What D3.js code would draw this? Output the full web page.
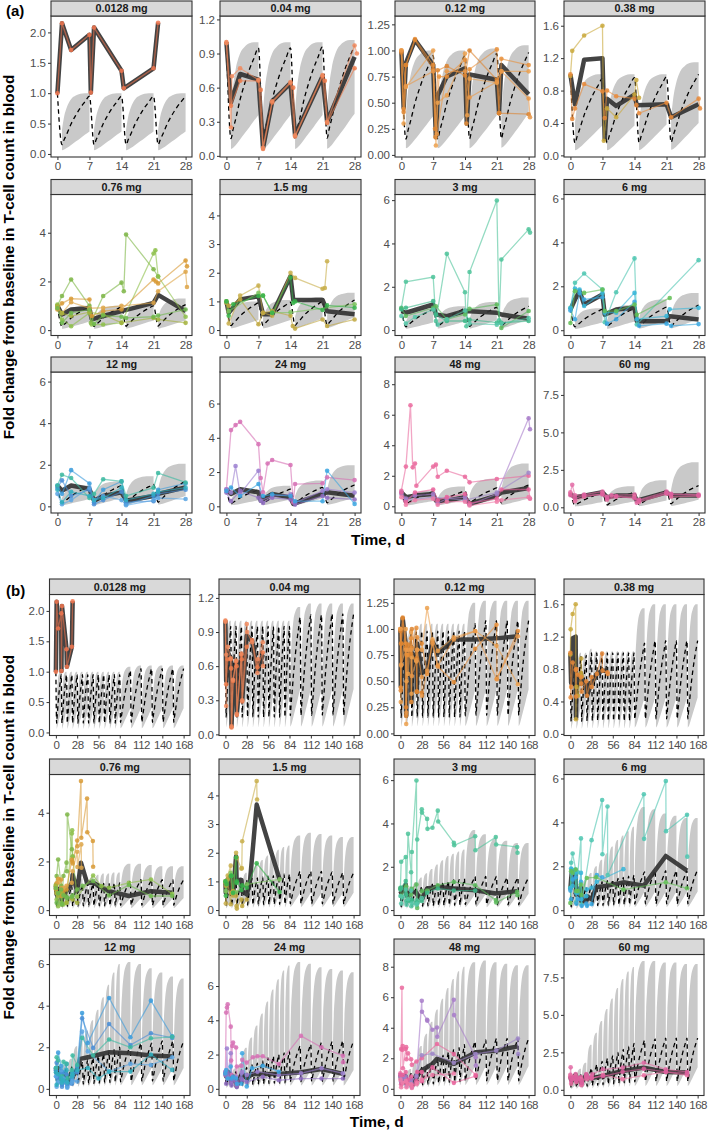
<!DOCTYPE html>
<html><head><meta charset="utf-8">
<script src="https://cdn.jsdelivr.net/npm/d3@7"></script>
<style>body{margin:0;background:#fff;} text{font-family:"Liberation Sans",Arial,sans-serif;}</style>
</head><body>
<script>
// ---------------- DATA ----------------
const doseLabels = ["0.0128 mg","0.04 mg","0.12 mg","0.38 mg","0.76 mg","1.5 mg","3 mg","6 mg","12 mg","24 mg","48 mg","60 mg"];
const yDomains = [[-0.05,2.27],[-0.01,1.23],[-0.02,1.33],[-0.02,1.72],[-0.22,5.57],[-0.19,4.73],[-0.25,6.26],[-0.24,6.18],[-0.32,6.46],[-0.39,7.84],[-0.44,8.8],[-0.38,9.03]];
const yTicks = [[0,0.5,1,1.5,2],[0,0.3,0.6,0.9,1.2],[0,0.25,0.5,0.75,1,1.25],[0,0.4,0.8,1.2,1.6],[0,2,4],[0,1,2,3,4],[0,2,4,6],[0,2,4,6],[0,2,4,6],[0,2,4,6],[0,2,4,6,8],[0,2.5,5,7.5]];
const yTickFormats = [".1f",".1f",".2f",".1f","d","d","d","d","d","d","d",".1f"];
const xTicksA = [0,7,14,21,28];
const xTicksB = [0,28,56,84,112,140,168];
const dosesA = [0,7,14,21];
const dosesB = [0,7,14,21,28,35,42,49,56,63,70,77,84,98,112,126,140,154];

// within-cycle shape of the prediction interval (fraction of cycle, fraction of end value)
const cycleFrac = [0,0.08,0.17,0.33,0.5,0.67,0.83,1];
const upperShape = [0.4,0.62,0.76,0.9,0.96,0.99,1,1];
const lowerShape = [0.17,0.2,0.26,0.4,0.55,0.7,0.85,1];
const medianShape = [0.16,0.25,0.34,0.52,0.67,0.8,0.9,1];

// (a) per panel, per weekly cycle end values
const ribbonA_upper = [[1,1,1,1],[1,1,1,1.02],[1,1,1.02,1.05],[1,1,1,1.15],[1,1,1.1,1.3],[1,1.05,1.15,1.3],[1,1.1,1.3,1.5],[1,1.15,1.4,1.7],[1,1.2,1.45,2.05],[1,1.2,1.5,2.4],[1,1.3,1.8,2.8],[1,1.4,1.8,3.0]];
const ribbonA_median = [[.95,.95,.95,.95],[.95,.95,.96,.97],[.95,.95,.97,.98],[.95,.96,.97,1],[.95,.95,1,1.05],[.95,.97,1,1.05],[.95,1,1.05,1.1],[.95,1,1.05,1.15],[.95,1,1.05,1.2],[.95,1,1.1,1.25],[.95,1,1.2,1.4],[.95,1,1.1,1.45]];
const ribbonA_lower = [[.37,.37,.37,.37],[.36,.36,.36,.37],[.37,.37,.38,.4],[.37,.37,.38,.4],[.35,.35,.4,.4],[.35,.35,.4,.45],[.35,.4,.45,.5],[.35,.4,.45,.5],[.35,.4,.45,.5],[.35,.4,.45,.5],[.35,.4,.45,.5],[.35,.4,.45,.5]];

// (b) per panel, per cycle end values (18 cycles)
const ribbonB_upper = [
 [1,1,1,1,1,1,1,1,1,1,1,1,1.08,1.1,1.1,1.1,1.1,1.1],
 [1,1,1,1,1,1,1,1,1,1,1,1,1.12,1.15,1.15,1.15,1.15,1.15],
 [1,1,1.02,1.05,1.05,1.05,1.05,1.05,1.05,1.05,1.05,1.05,1.25,1.27,1.27,1.27,1.27,1.27],
 [1,1,1,1.05,1.02,1.02,1.02,1.02,1.02,1.02,1.02,1.02,1.55,1.6,1.6,1.6,1.6,1.6],
 [1,1,1.1,1.3,1.3,1.35,1.4,1.45,1.5,1.5,1.55,1.55,1.9,1.9,1.85,1.8,1.8,1.8],
 [1,1.05,1.15,1.3,1.45,1.6,1.75,1.9,2,2.1,2.2,2.25,2.6,2.7,2.65,2.6,2.55,2.55],
 [1,1.1,1.3,1.5,1.7,1.9,2.1,2.3,2.5,2.6,2.7,2.8,3.7,3.5,3.3,3.2,3.1,3.1],
 [1,1.15,1.4,1.7,2,2.3,2.6,2.9,3.2,3.4,3.6,3.8,4.7,4.6,4.4,4.3,4.2,4.2],
 [1,1.2,1.45,2.05,2.4,2.8,3.3,3.8,4.4,5,5.6,6,6.1,6,5.8,5.6,5.4,5.3],
 [1,1.2,1.5,2.4,3,3.7,4.4,5.1,5.8,6.4,6.9,7.2,7.4,7.3,7.1,7,6.9,6.8],
 [1,1.3,1.8,2.8,3.6,4.4,5.2,5.9,6.6,7.2,7.7,8,8.3,8.4,8.3,8.2,8.1,8.1],
 [1,1.4,1.8,3,3.8,4.6,5.4,6.1,6.8,7.4,7.9,8.2,8.6,8.6,8.5,8.5,8.4,8.4]];
const ribbonB_median = [
 [.95,.95,.95,.95,.95,.95,.95,.95,.95,.95,.95,.95,1.02,1.05,1.05,1.05,1.05,1.05],
 [.95,.95,.95,.95,.95,.95,.95,.95,.95,.95,.95,.95,1.03,1.05,1.05,1.06,1.06,1.06],
 [.95,.95,.97,.98,.98,.98,.98,.98,.98,.98,.98,.98,1.05,1.08,1.08,1.08,1.08,1.08],
 [.95,.96,.97,1,1,1,1,1,1,1,1,1,1.12,1.15,1.15,1.15,1.15,1.15],
 [.95,.95,1,1.05,1.05,1.08,1.1,1.1,1.1,1.1,1.12,1.12,1.2,1.25,1.25,1.25,1.25,1.25],
 [.95,.97,1,1.05,1.1,1.12,1.15,1.18,1.2,1.22,1.25,1.25,1.35,1.35,1.35,1.33,1.3,1.3],
 [.95,1,1.05,1.1,1.15,1.2,1.25,1.3,1.35,1.4,1.4,1.45,1.55,1.55,1.55,1.5,1.5,1.5],
 [.95,1,1.05,1.15,1.2,1.3,1.35,1.4,1.45,1.5,1.55,1.6,1.75,1.8,1.8,1.8,1.8,1.85],
 [.95,1,1.05,1.2,1.3,1.4,1.5,1.6,1.7,1.8,1.9,2,2.1,2.2,2.2,2.3,2.3,2.3],
 [.95,1,1.1,1.25,1.4,1.5,1.65,1.8,1.9,2,2.1,2.2,2.5,2.6,2.7,2.75,2.8,2.8],
 [.95,1,1.2,1.4,1.6,1.8,2,2.2,2.4,2.6,2.7,2.9,3.1,3.2,3.3,3.3,3.3,3.3],
 [.95,1,1.1,1.45,1.7,1.9,2.1,2.3,2.5,2.7,2.9,3.1,3.3,3.4,3.45,3.45,3.45,3.45]];
const ribbonB_lower = [
 [.37,.37,.37,.37,.37,.37,.37,.37,.37,.37,.37,.37,.4,.4,.4,.4,.4,.4],
 [.37,.37,.37,.37,.37,.37,.37,.37,.37,.37,.37,.37,.4,.4,.4,.4,.4,.4],
 [.37,.37,.38,.4,.4,.4,.4,.4,.4,.4,.4,.4,.42,.42,.42,.42,.42,.42],
 [.37,.37,.38,.4,.4,.4,.4,.4,.4,.4,.4,.4,.45,.45,.45,.45,.45,.45],
 [.35,.35,.4,.4,.42,.42,.44,.44,.46,.46,.48,.48,.5,.5,.5,.5,.5,.5],
 [.35,.35,.4,.45,.45,.48,.5,.5,.52,.52,.55,.55,.6,.6,.6,.6,.6,.6],
 [.35,.4,.45,.5,.5,.55,.55,.6,.6,.65,.65,.7,.75,.75,.75,.75,.75,.75],
 [.35,.4,.45,.5,.55,.6,.6,.65,.7,.7,.75,.75,.85,.85,.85,.85,.85,.85],
 [.35,.4,.45,.5,.55,.6,.65,.7,.75,.8,.85,.9,1,1,1,1,1,1],
 [.35,.4,.45,.5,.6,.65,.7,.8,.85,.9,.95,1,1.1,1.1,1.1,1.1,1.1,1.1],
 [.35,.4,.45,.5,.6,.7,.8,.9,1,1.1,1.2,1.3,1.5,1.5,1.5,1.5,1.5,1.5],
 [.35,.4,.45,.5,.6,.7,.8,.9,1,1.1,1.2,1.3,1.5,1.5,1.5,1.5,1.5,1.5]];

// observed individual profiles: [day, fold change]
const obs_0p0128 = [
 {c:"#F0754F",p:[[0,1],[1,2.15],[3,1.71],[7,1.96],[7.3,1.01],[8,2.08],[14,1.37],[14.5,1.08],[21,1.41],[22,2.16]]}];
const obs_0p04 = [
 {c:"#EE7B4B",p:[[0,1],[1,0.44],[3,0.66],[7,0.66],[7.5,0.58],[8,0.06],[10,0.47],[14,0.64],[14.6,0.6],[15,0.17],[21,0.7],[21.5,0.66],[22,0.29],[28,0.77],[35,0.83],[42,0.59],[49,0.72]]},
 {c:"#F08A5E",p:[[0,0.99],[1,0.25],[1.2,0.7],[3,0.77],[7,0.67],[8,0.07],[10,0.48],[14,0.65],[15,0.18],[21,0.71],[22,0.3],[28,0.97],[28.5,0.9],[35,0.81],[42,0.54],[42.5,0.66],[49,0.81],[49.3,0.6]]}];
const obs_0p12 = [
 {c:"#E88F3A",p:[[0,1],[0.5,0.44],[1,0.86],[3,1.11],[7,0.86],[7.5,0.17],[8.3,0.75],[10,0.75],[14,0.91],[14.3,0.3],[15,0.82],[21,1.01],[21.5,0.4],[22,0.92],[28,0.86],[35,0.57],[42,0.88],[49,0.64],[70,0.49],[98,0.81],[126,1.04],[126.5,0.52],[154,0.98]]},
 {c:"#EBA04E",p:[[0,1],[0.5,0.3],[1,0.65],[7,1],[7.6,0.09],[8,0.5],[10,0.57],[14,0.97],[14.5,0.38],[15,0.73],[21,0.69],[22,0.8],[28,0.8],[35,1.2],[42,0.9],[49,0.79],[70,0.92],[98,0.98],[126,0.84],[154,0.47]]},
 {c:"#DC8430",p:[[0,0.98],[0.5,0.41],[1,0.86],[3,1.1],[7,0.82],[7.4,0.25],[8,0.81],[10,0.85],[14,0.76],[15,1],[21,0.72],[21.5,0.4],[28,0.39]]},
 {c:"#E99848",p:[[0,1],[1,0.66],[7,0.8],[7.8,0.2],[10,0.8],[14,0.8],[15,0.55],[21,0.7],[22,0.8],[28,0.54],[28.3,0.36],[35,0.6],[42,0.86],[49,0.65],[70,0.9],[98,0.98],[126,0.52],[154,0.93]]}];
const obs_0p38 = [
 {c:"#C9A83B",p:[[0,0.98],[0.4,1.29],[3,1.48],[7,1.6],[7.3,0.18],[8,0.58],[10,0.47],[14,0.75],[14.4,0.93],[15,0.71]]},
 {c:"#E88A3A",p:[[0,1],[0.4,0.45],[1,0.58],[3,0.88],[7,0.79],[7.5,0.46],[8,0.8],[10,0.73],[14,0.7],[14.4,0.62],[15,0.52],[21,0.65],[22,0.47],[28,0.7],[28.3,0.58],[35,0.74],[42,0.99],[42.5,0.78],[49,0.76],[49.3,0.74]]}];
const obs_0p76 = [
 {c:"#7DB545",p:[[0,1],[1,1.4],[3,2.08],[7,1],[7.3,0.3],[10,1.4],[14,1.95],[14.5,1.6],[15,3.93],[21,2.5],[22,2.2]]},
 {c:"#8DBF4A",p:[[0,1.05],[1,0.44],[3,0.16],[7,0.71],[7.5,0.23],[10,0.23],[14,0.3],[21,3.15],[21.4,3.28],[22,2.2],[28,0.55],[49,1.42],[60,0.99],[70,0.92],[96,1.12],[125,1.26],[153,0.67]]},
 {c:"#D89A35",p:[[0,0.85],[1,1.1],[3,1.29],[7,1.26],[7.5,0.58],[10,0.78],[14,0.85],[21,2.08],[21.5,2],[22,1.92],[28,2.86],[28.3,2.62],[33,5.3],[33.4,2.97],[41,4.58],[41.3,3.2],[48.6,2.84],[49,1.78]]},
 {c:"#DDA548",p:[[0,0.95],[1,0.7],[3,1.15],[7,0.9],[10,0.92],[14,1],[21,1.12],[22,1.6],[28,2.4],[28.3,1.77],[33.4,2.7],[33.6,1.74]]},
 {c:"#A3B23C",p:[[0,1],[1,0.7],[3,0.58],[7,0.74],[10,0.64],[14,0.3],[21,0.5],[22,0.44],[28,0.3]]},
 {c:"#6FB84E",p:[[0,0.9],[1,0.3],[3,0.7],[7,0.85],[8,0.25],[10,0.6],[14,0.55],[15,0.5],[21,0.55],[22,0.6],[28,0.85],[35,1],[49,1.2],[70,0.6],[96,1.03],[125,0.58],[153,0.58]]}];
const obs_1p5 = [
 {c:"#C8AE4A",p:[[0,1],[0.5,0.23],[3,1.2],[7,1.55],[8,0.6],[10,0.5],[14,2],[15,1.82],[21,1.44],[21.5,1.47],[22,2.4],[41,4.5],[41.5,3.86]]},
 {c:"#BFA740",p:[[0,0.95],[0.5,0.85],[3,1.07],[7,0.2],[8,0.6],[10,0.66],[14,0.5],[14.5,0.14],[15,0.05],[21,0.37],[22,0.14],[28,0.37]]},
 {c:"#7CC35E",p:[[0,1],[0.5,0.66],[7,1.3],[8,1.2],[10,0.6],[14,0.62],[28,0.9],[71,1.07]]},
 {c:"#36B34A",p:[[0,1],[0.5,0.5],[1.5,0.9],[7,1.19],[8,1.2],[10,0.6],[14,1.83],[14.6,0.95],[15,1],[21,0.7],[22,0.86],[28,0.78],[41,1.63],[71,0.63]]}];
const obs_3 = [
 {c:"#4DC39A",p:[[0,1.03],[1,2.23],[7,2.45],[7.6,0.42],[10,3.52],[14,1.75],[14.3,0.18],[15,2.68],[21,5.98],[21.5,0.45],[22,3.26],[28,4.65],[28.3,4.5],[35,4.21],[35.5,3.75],[42,3.8],[49,4.59],[49.5,4.09],[70,3.11],[70.5,2.99],[98,3.41],[98.3,2.76],[125,3.37],[125.5,3.03],[153,2.91],[153.5,2.65]]},
 {c:"#5CB85C",p:[[0,1],[1,0.65],[7,1.03],[7.6,1.1],[10,0.5],[14,0.72],[15,0.98],[21,1.18],[22,0.1],[28,0.88],[35,0.9],[49,1.15],[70,1.3],[98,1.15],[125,0.46],[125.5,0.35],[153,0.84],[153.5,0.69]]},
 {c:"#3DB88A",p:[[0,0.95],[1,1.03],[7,1.34],[7.6,0.72],[10,0.42],[14,0.42],[15,0.48],[21,0.34],[22,0.34],[28,0.42],[35,0.8],[49,1],[70,0.9],[98,0.9]]},
 {c:"#55C7A8",p:[[0,0.65],[1,0.3],[3,0.6],[7,0.95],[8,0.25],[10,0.5],[14,0.9],[15,0.3],[21,0.25],[22,0.3],[28,0.55]]}];
const obs_6 = [
 {c:"#4CC5B0",p:[[0,1.02],[1,2.16],[3,2.58],[7,1.85],[7.5,0.36],[10,1.73],[14,3.27],[14.5,0.26],[28,3.19],[42,5.02],[42.3,2.55],[49,4.72],[49.3,1.6],[97,5.28],[97.3,3.25],[126,5.88],[126.3,3.6],[154,4.35],[154.3,2.44]]},
 {c:"#36B5D8",p:[[0,1],[1,1.9],[2,1.85],[3,1.1],[7,1.7],[7.5,0.8],[10,0.8],[14,1.7],[14.5,0.5],[21,0.64],[21.7,0.95],[28,1.02],[35,1.3],[70,1.87]]},
 {c:"#3AA8E0",p:[[0,0.9],[1,0.5],[2,1.7],[3,1.4],[7,1.5],[8,0.3],[10,0.5],[14,1.3],[15,0.2],[21,0.3],[22,0.2],[28,0.28],[35,1.6],[42,1.5]]},
 {c:"#62BE55",p:[[0,0.33],[1,1.78],[3,1.7],[7,1.85],[7.5,0.87],[10,0.87],[14,1.17],[14.5,0.7],[21.7,1.47],[34,1.5],[70,0.94],[126,1.27],[154,1]]}];
const obs_12 = [
 {c:"#3A9BDC",p:[[0,1],[1,0.6],[3,1.74],[7,1.1],[8,0.2],[10,0.8],[14,1.2],[15,0.1],[21,0.5],[22,0.8],[28,1.1],[34.5,3.65],[42,2.2],[70,4.37],[98,2.48],[125,4.24],[153,2.53]]},
 {c:"#4A8ED6",p:[[0,0.9],[1,1.25],[3,0.5],[7,0.8],[8,0.1],[10,0.3],[14,0.7],[15,0.2],[21,0.25],[22,0.6],[28,0.8],[34.5,3.39],[49,1.97],[70,3.12],[98,2.11],[125,2.67],[153,2.45]]},
 {c:"#3BB9A0",p:[[0,1],[1,1.52],[3,1.36],[7,0.4],[8,0.6],[10,1.3],[14,1.2],[15,0.5],[21,0.9],[22,1.6],[28,1.15],[34.5,2.45],[49,1.6],[70,2.37],[98,2],[125,2.43],[153,2.5]]},
 {c:"#5AA5E2",p:[[0,0.6],[1,0.1],[3,0.3],[7,0.9],[8,0.3],[10,0.5],[14,0.3],[15,0.05],[21,0.3],[22,0.4],[28,0.35],[34.5,2.75],[42,1.8],[70,0.83],[98,1.2],[125,1.15],[153,1.52]]},
 {c:"#2FAFC0",p:[[0,0.8],[1,0.2],[3,0.7],[7,0.5],[8,0.3],[10,0.4],[14,0.9],[15,0.3],[21,0.6],[22,0.7],[28,0.9],[42,1],[56,0.5],[70,0.83],[98,0.83],[125,1.65],[153,0.91]]}];
const obs_24 = [
 {c:"#D670B4",p:[[0,1],[1,4.45],[2,4.74],[3,4.93],[7,3.63],[7.5,1.65],[8,0.82],[9,2.5],[10,2.7],[14,2.41],[14.6,0.23],[15,1.3],[21,1.34],[22,1.69],[28,1.53],[36,1.84],[42,1.9],[49,1.9],[70,1.45],[99,3.09],[126,2.42],[154,1.93],[154.3,1.55]]},
 {c:"#9B7FD0",p:[[0,1],[1,0.8],[2,2.35],[3,0.72],[7,2.08],[7.5,0.33],[10,0.6],[14,0.7],[15,0.2],[21,0.9],[22,1],[28,0.8],[42,1],[70,0.8],[99,0.9],[126,1.2],[154,0.9]]},
 {c:"#8E6CC0",p:[[0,0.8],[1,0.3],[3,0.9],[7,0.5],[8,0.2],[10,0.5],[14,0.4],[15,0.1],[21,0.6],[22,0.5],[28,0.4],[49,0.7],[70,0.5],[99,0.6],[126,0.6],[154,0.6]]},
 {c:"#3AA5E0",p:[[0,0.9],[1,1.1],[3,0.6],[7,1.3],[8,0.6],[10,0.7],[14,0.6],[15,0.3],[21,0.3],[22,2.08],[28,0.14],[35,1.2],[49,1.35],[70,1]]}];
const obs_48 = [
 {c:"#EA6A9E",p:[[0,1.02],[1,2.6],[2,6.62],[2.5,2.55],[3,2.8],[3.3,1.35],[7,2.6],[7.6,2.73],[8,1.94],[10,2.33],[14,1.94],[15,1.57],[21,1.79],[28,2],[48,2.93],[70,2.28],[98.6,0.91]]},
 {c:"#A77BC9",p:[[0,0.9],[1,0.5],[3,0.7],[7,0.8],[8,0.2],[10,0.5],[14,0.6],[15,0.1],[21,0.8],[28,5.77],[28.3,5.05],[35,4.52],[35.3,4.46],[42,3.87],[48,4.02],[48.3,3.41],[70,5.83],[70.3,4.83],[98.6,2.07],[98.9,1.52]]},
 {c:"#9E86C8",p:[[0,0.8],[1,0.4],[7,0.6],[14,0.4],[21,0.9],[28,2.2],[42,2.3],[70,1.7],[98.6,2.28],[125.6,2.5],[154,3.3],[154.3,2.28]]},
 {c:"#E8609A",p:[[0,0.9],[1,0.3],[3,0.9],[7,1.1],[8,0.4],[10,0.6],[14,0.8],[15,0.2],[21,0.5],[22,1.1],[28,1.1],[28.3,0.5],[42,1.4],[70,0.39],[98.6,0.83]]},
 {c:"#F07CA8",p:[[0,0.6],[1,0.1],[3,0.4],[7,0.5],[8,0.1],[10,0.3],[14,0.3],[15,0.05],[21,0.3],[22,0.4],[28,0.6],[42,0.9],[70,1]]}];
const obs_60 = [
 {c:"#E26AA4",p:[[0,1],[0.4,1.5],[1,0.8],[3,0.85],[7,1.05],[8,0.7],[9,0.8],[14,0.85],[14.5,0.3],[15,0.5],[21,1.05],[22,0.9],[28,0.85],[29,1.04],[43,1.37],[69,1.48],[97,1.81],[126,1.37],[154,1.19]]},
 {c:"#E870A0",p:[[0,0.9],[1,0.4],[3,0.7],[7,0.9],[8,0.5],[10,0.7],[14,0.7],[15,0.35],[21,0.9],[22,0.7],[28,0.75],[43,1],[69,0.71],[97,0.97],[126,1.19],[154,0.97]]},
 {c:"#DA5E9C",p:[[0,0.8],[1,0.6],[3,0.8],[7,0.85],[8,0.6],[10,0.75],[14,0.6],[15,0.45],[21,0.95],[22,0.85],[28,0.8],[43,0.9],[69,1.2],[97,1.4],[126,1.2],[154,1.1]]}];
const observations = [obs_0p0128,obs_0p04,obs_0p12,obs_0p38,obs_0p76,obs_1p5,obs_3,obs_6,obs_12,obs_24,obs_48,obs_60];

// observed median per dose
const medians = [
 [[0,1],[1,2.15],[3,1.71],[7,1.96],[7.3,1.01],[8,2.08],[14,1.37],[14.5,1.08],[21,1.41],[22,2.16]],
 [[0,1],[1,0.47],[3,0.72],[7,0.67],[8,0.07],[10,0.48],[14,0.64],[15,0.18],[21,0.7],[22,0.3],[28,0.87],[35,0.82],[42,0.56],[49,0.7]],
 [[0,1],[0.5,0.45],[1,0.88],[3,1.1],[7,0.86],[7.6,0.17],[8,0.57],[10,0.75],[14,0.83],[14.4,0.3],[15,0.77],[21,0.72],[21.5,0.4],[22,0.86],[28,0.58],[35,0.6],[42,0.88],[49,0.77],[70,0.9],[98,0.9],[126,0.91],[154,0.93]],
 [[0,1],[1,0.63],[3,1.18],[7,1.2],[7.5,0.2],[8,0.7],[10,0.61],[14,0.75],[14.5,0.62],[21,0.63],[22,0.47],[28,0.63],[35,0.74],[42,0.78],[49,0.78]],
 [[0,1],[1,0.64],[3,0.85],[7,0.9],[7.5,0.44],[10,0.58],[14,0.78],[21,1.12],[22,1.45],[28,0.78],[33,1.95],[41,1.12],[49,1.12],[70,0.78],[96,0.58],[125,0.78],[153,0.71]],
 [[0,1],[0.5,0.6],[3,1.07],[7,1.18],[8,0.55],[10,0.55],[14,1.88],[14.6,1.05],[21,1.05],[22,0.66],[28,0.55],[32,0.95],[41,3.68],[71,1.07]],
 [[0,0.88],[1,0.8],[7,1.18],[7.6,0.72],[10,0.64],[14,0.88],[21,0.8],[22,0.72],[28,0.52],[35,1],[49,1.07],[70,1],[98,0.92],[125,0.77],[153,0.87]],
 [[0,0.94],[1,1.4],[2,1.78],[3,1.17],[7,1.63],[7.5,0.71],[10,0.94],[14,1.02],[14.5,0.41],[21,0.41],[21.7,0.64],[28,0.49],[34,1.05],[49,1.12],[70,1.27],[97,1.12],[126,2.47],[154,1.8]],
 [[0,1],[1,0.75],[3,1],[7,0.83],[8,0.27],[10,0.5],[14,0.67],[15,0.27],[21,0.5],[22,0.6],[28,0.91],[32,1.44],[42,1.52],[70,1.76],[98,1.71],[125,1.6],[153,1.55]],
 [[0,1],[1,0.72],[3,1],[7,0.82],[7.5,0.33],[10,0.72],[14,0.52],[14.6,0.14],[21,0.72],[22,0.82],[28,0.62],[35,0.87],[49,0.87],[70,0.87],[99,0.97],[126,1.16],[154,0.87]],
 [[0,0.92],[1,0.6],[3,0.7],[7,0.8],[7.6,0.37],[10,0.37],[14,0.6],[15,0.15],[21,0.7],[22,0.9],[28,1.2],[42,1.63],[48,1.96],[70,1.63],[98.6,2.39],[125.6,2.5],[154,2.78]],
 [[0,0.89],[1,0.67],[3,0.78],[7,1],[8,0.67],[10,0.78],[14,0.78],[14.5,0.44],[21,1],[22,0.78],[28,0.78],[43,0.93],[69,1.26],[97,1.48],[126,1.19],[154,1.15]]];

// ---------------- DRAWING ----------------
const W = 709, H = 1135;
const svg = d3.select("body").append("svg").attr("width", W).attr("height", H);
const FONT = '"Liberation Sans", Arial, sans-serif';

const parts = [
 {label:"(a)", labelY:16, colX:[[51,192],[220,361],[395,535],[564,705]], stripTop:[1,179.5,357], stripH:15,
  plotH:141, xDomain:[-1.4,29.4], xTicks:xTicksA, doses:dosesA, tEnd:28, tMax:28.5,
  ribU:ribbonA_upper, ribM:ribbonA_median, ribL:ribbonA_lower, xTitleY:545, medW:4.5, xls:0},
 {label:"(b)", labelY:596, colX:[[49.5,190],[219,360],[394,535],[564,704]], stripTop:[579,759,939], stripH:15.5,
  plotH:141, xDomain:[-8.4,176.4], xTicks:xTicksB, doses:dosesB, tEnd:168, tMax:200,
  ribU:ribbonB_upper, ribM:ribbonB_median, ribL:ribbonB_lower, xTitleY:1127, medW:4.5, xls:-0.5}
];

parts.forEach((P, pi) => {
  const g = svg.append("g");
  g.append("text").attr("x", 6).attr("y", P.labelY).text(P.label)
    .attr("font-size", 15).attr("font-weight", "bold").attr("fill", "#000").style("font-family", FONT);

  doseLabels.forEach((lab, i) => {
    const r = Math.floor(i / 4), c = i % 4;
    const x0 = P.colX[c][0], x1 = P.colX[c][1];
    const sTop = P.stripTop[r], pTop = sTop + P.stripH, pBot = pTop + P.plotH;
    const x = d3.scaleLinear().domain(P.xDomain).range([x0, x1]);
    const y = d3.scaleLinear().domain(yDomains[i]).range([pBot, pTop]);
    const pg = g.append("g");
    const cid = `clip${pi}_${i}`;
    pg.append("clipPath").attr("id", cid).append("rect").attr("x", x0).attr("y", pTop).attr("width", x1 - x0).attr("height", pBot - pTop);
    pg.append("rect").attr("x", x0).attr("y", pTop).attr("width", x1 - x0).attr("height", pBot - pTop).attr("fill", "#fff");
    const dg = pg.append("g").attr("clip-path", `url(#${cid})`);

    // prediction interval ribbons + dashed median
    const area = d3.area().x(d => x(d[0])).y0(d => y(d[1])).y1(d => y(d[2])).curve(d3.curveMonotoneX);
    const dashPts = [[0, 1]];
    P.doses.forEach((d, k) => {
      const end = k < P.doses.length - 1 ? P.doses[k + 1] : P.tEnd;
      const U = P.ribU[i][k], M = P.ribM[i][k], L = P.ribL[i][k];
      const pts = cycleFrac.map((f, j) => {
        const t = d + 1 + f * (end - d - 1);
        dashPts.push([t, M * medianShape[j]]);
        return [t, L * lowerShape[j], U * upperShape[j]];
      });
      dg.append("path").attr("d", area(pts)).attr("fill", "#c9c9c9");
    });
    const dline = d3.line().x(d => x(d[0])).y(d => y(d[1])).curve(d3.curveMonotoneX);
    dg.append("path").attr("d", dline(dashPts)).attr("fill", "none").attr("stroke", "#000")
      .attr("stroke-width", 1.3).attr("stroke-dasharray", "4.5,3.5");

    const line = d3.line().x(d => x(d[0])).y(d => y(d[1]));
    // observed median
    const med = medians[i].filter(d => d[0] <= P.tMax);
    dg.append("path").attr("d", line(med)).attr("fill", "none").attr("stroke", "#333")
      .attr("stroke-opacity", 0.92).attr("stroke-width", P.medW).attr("stroke-linejoin", "round");

    // individual profiles
    observations[i].forEach(s => {
      const pts = s.p.filter(d => d[0] <= P.tMax);
      dg.append("path").attr("d", line(pts)).attr("fill", "none").attr("stroke", s.c)
        .attr("stroke-opacity", 0.6).attr("stroke-width", 1.3);
    });
    observations[i].forEach(s => {
      const pts = s.p.filter(d => d[0] <= P.tMax);
      dg.selectAll(null).data(pts).join("circle").attr("cx", d => x(d[0])).attr("cy", d => y(d[1]))
        .attr("r", 2.3).attr("fill", s.c).attr("fill-opacity", 0.85);
    });

    // border
    pg.append("rect").attr("x", x0).attr("y", pTop).attr("width", x1 - x0).attr("height", pBot - pTop)
      .attr("fill", "none").attr("stroke", "#333").attr("stroke-width", 1.1);

    // axes
    const ax = pg.append("g").attr("transform", `translate(${x0},0)`)
      .call(d3.axisLeft(y).tickValues(yTicks[i]).tickFormat(d3.format(yTickFormats[i])).tickSize(3).tickPadding(2));
    const bx = pg.append("g").attr("transform", `translate(0,${pBot})`)
      .call(d3.axisBottom(x).tickValues(P.xTicks).tickFormat(d3.format("d")).tickSize(3).tickPadding(2));
    [ax, bx].forEach(a => {
      a.select(".domain").remove();
      a.selectAll("line").attr("stroke", "#333");
      a.selectAll("text").attr("fill", "#4d4d4d").attr("font-size", 11.5).style("font-family", FONT);
    });
    bx.selectAll("text").attr("letter-spacing", P.xls);

    // strip
    pg.append("rect").attr("x", x0).attr("y", sTop).attr("width", x1 - x0).attr("height", P.stripH)
      .attr("fill", "#d9d9d9").attr("stroke", "#333").attr("stroke-width", 1.1);
    pg.append("text").attr("x", (x0 + x1) / 2).attr("y", sTop + P.stripH / 2 + 3.8).attr("text-anchor", "middle")
      .attr("font-size", 10.8).attr("font-weight", "bold").attr("fill", "#1a1a1a").style("font-family", FONT).text(lab);
  });

  const top = P.stripTop[0], bot = P.stripTop[2] + P.stripH + P.plotH;
  g.append("text").attr("transform", `translate(14,${(top + bot) / 2}) rotate(-90)`).attr("text-anchor", "middle")
    .attr("font-size", 15.3).attr("font-weight", "bold").attr("fill", "#000").style("font-family", FONT)
    .text("Fold change from baseline in T-cell count in blood");
  g.append("text").attr("x", (P.colX[0][0] + P.colX[3][1]) / 2).attr("y", P.xTitleY).attr("text-anchor", "middle")
    .attr("font-size", 15.5).attr("font-weight", "bold").attr("fill", "#000").style("font-family", FONT)
    .text("Time, d");
});
</script></body></html>
